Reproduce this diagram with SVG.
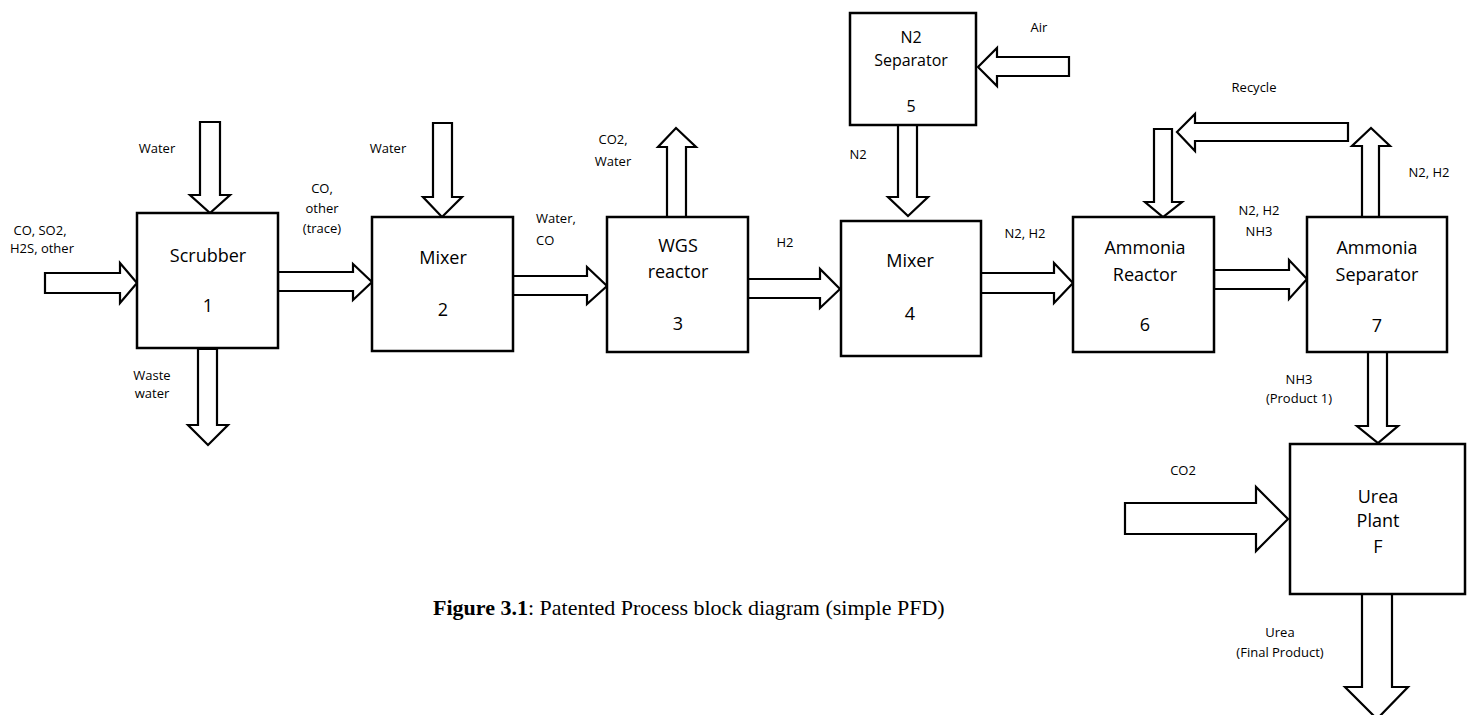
<svg xmlns="http://www.w3.org/2000/svg" width="1471" height="715" viewBox="0 0 1471 715">
<style>
.box{fill:#fff;stroke:#000;stroke-width:2.5}
.arr{fill:#fff;stroke:#000;stroke-width:2.2;stroke-linejoin:miter}
.lb{font-family:"Open Sans","Liberation Sans",sans-serif;font-size:13px;fill:#000;text-anchor:middle}
.big{font-family:"Open Sans","Liberation Sans",sans-serif;font-size:18px;fill:#000;text-anchor:middle}
.mid{font-family:"Open Sans","Liberation Sans",sans-serif;font-size:16px;fill:#000;text-anchor:middle}
.cap{font-family:"Liberation Serif","Times New Roman",serif;font-size:22px;fill:#000}
</style>
<rect width="1471" height="715" fill="#fff"/>
<g id="connectors">
<polygon class="arr" points="45,273 120,273 120,263 137,283 120,303 120,293 45,293"/>
<polygon class="arr" points="278,272 353,272 353,264 372,282 353,300 353,291 278,291"/>
<polygon class="arr" points="513,276 587,276 587,267 607,286 587,304 587,295 513,295"/>
<polygon class="arr" points="748,279 820,279 820,269 840,289 820,308 820,298 748,298"/>
<polygon class="arr" points="979,273 1054,273 1054,263 1073,283 1054,303 1054,293 979,293"/>
<polygon class="arr" points="1214,270 1289,270 1289,260 1307,279 1289,299 1289,289 1214,289"/>
<polygon class="arr" points="1125,503 1256,503 1256,487 1288,519 1256,551 1256,534 1125,534"/>
<polygon class="arr" points="1069,57 997,57 997,48 978,67 997,86 997,76 1069,76"/>
<polygon class="arr" points="1348,123 1195,123 1195,114 1177,132 1195,151 1195,141 1348,141"/>
<polygon class="arr" points="200,122 220,122 220,195 230,195 210,213 190,195 200,195"/>
<polygon class="arr" points="198,349 217,349 217,425 228,425 208,445 188,425 198,425"/>
<polygon class="arr" points="433,123 452,123 452,197 462,197 442,217 423,197 433,197"/>
<polygon class="arr" points="898,125 917,125 917,197 928,197 908,216 888,197 898,197"/>
<polygon class="arr" points="1154,129 1172,129 1172,202 1182,202 1163,217 1145,202 1154,202"/>
<polygon class="arr" points="1368,352 1387,352 1387,426 1398,426 1378,443 1357,426 1368,426"/>
<polygon class="arr" points="1362,594 1392,594 1392,687 1408,687 1377,719 1345,687 1362,687"/>
<polygon class="arr" points="667,217 686,217 686,147 696,147 676,128 658,147 667,147"/>
<polygon class="arr" points="1362,217 1379,217 1379,146 1390,146 1371,128 1352,146 1362,146"/>
</g>
<g id="node-scrubber">
<rect class="box" x="137" y="213" width="141" height="135"/>
<text class="big" x="208" y="262">Scrubber</text>
<text class="big" x="208" y="312">1</text>
</g>
<g id="node-mixer2">
<rect class="box" x="372" y="217" width="141" height="134"/>
<text class="big" x="443" y="264">Mixer</text>
<text class="big" x="443" y="316">2</text>
</g>
<g id="node-wgs">
<rect class="box" x="607" y="217" width="141" height="135"/>
<text class="big" x="678" y="252">WGS</text>
<text class="big" x="678" y="278">reactor</text>
<text class="big" x="678" y="330">3</text>
</g>
<g id="node-mixer4">
<rect class="box" x="841" y="221" width="140" height="135"/>
<text class="big" x="910" y="267">Mixer</text>
<text class="big" x="910" y="320">4</text>
</g>
<g id="node-n2sep">
<rect class="box" x="850" y="13" width="126" height="112"/>
<text class="mid" x="911" y="43">N2</text>
<text class="mid" x="911" y="66">Separator</text>
<text class="mid" x="911" y="112">5</text>
</g>
<g id="node-reactor">
<rect class="box" x="1073" y="217" width="141" height="135"/>
<text class="big" x="1145" y="254">Ammonia</text>
<text class="big" x="1145" y="281">Reactor</text>
<text class="big" x="1145" y="331">6</text>
</g>
<g id="node-separator">
<rect class="box" x="1307" y="217" width="140" height="135"/>
<text class="big" x="1377" y="254">Ammonia</text>
<text class="big" x="1377" y="281">Separator</text>
<text class="big" x="1377" y="332">7</text>
</g>
<g id="node-urea">
<rect class="box" x="1290" y="444" width="175" height="150"/>
<text class="big" x="1378" y="503">Urea</text>
<text class="big" x="1378" y="527">Plant</text>
<text class="big" x="1378" y="553">F</text>
</g>
<g id="labels">
<text class="lb" x="157" y="153">Water</text>
<text class="lb" x="40" y="235">CO, SO2,</text>
<text class="lb" x="42" y="253">H2S, other</text>
<text class="lb" x="152" y="380">Waste</text>
<text class="lb" x="152" y="398">water</text>
<text class="lb" x="388" y="153">Water</text>
<text class="lb" x="322" y="193">CO,</text>
<text class="lb" x="322" y="213">other</text>
<text class="lb" x="322" y="233">(trace)</text>
<text class="lb" x="536" y="223" style="text-anchor:start">Water,</text>
<text class="lb" x="536" y="245" style="text-anchor:start">CO</text>
<text class="lb" x="613" y="144">CO2,</text>
<text class="lb" x="613" y="166">Water</text>
<text class="lb" x="785" y="247">H2</text>
<text class="lb" x="1039" y="32">Air</text>
<text class="lb" x="858" y="159">N2</text>
<text class="lb" x="1025" y="238">N2, H2</text>
<text class="lb" x="1254" y="92">Recycle</text>
<text class="lb" x="1429" y="177">N2, H2</text>
<text class="lb" x="1259" y="215">N2, H2</text>
<text class="lb" x="1259" y="236">NH3</text>
<text class="lb" x="1299" y="384">NH3</text>
<text class="lb" x="1299" y="403">(Product 1)</text>
<text class="lb" x="1183" y="475">CO2</text>
<text class="lb" x="1280" y="637">Urea</text>
<text class="lb" x="1280" y="657">(Final Product)</text>
</g>
<text class="cap" x="433" y="615"><tspan font-weight="bold">Figure 3.1</tspan>: Patented Process block diagram (simple PFD)</text>
</svg>
